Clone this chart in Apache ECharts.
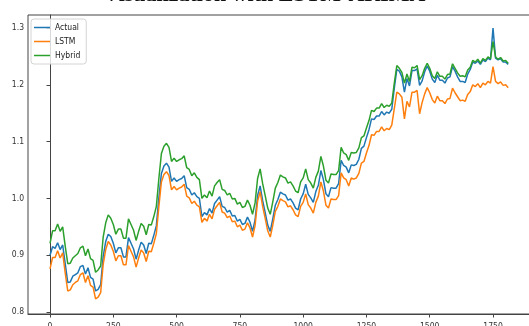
<!DOCTYPE html>
<html>
<head>
<meta charset="utf-8">
<script src="https://cdn.jsdelivr.net/npm/echarts@6/dist/echarts.min.js"></script>
<style>
  html, body { margin: 0; padding: 0; background: #fff; }
  #chart { width: 529px; height: 326px; }
</style>
</head>
<body>
<div id="chart"></div>
<script>
// Sample spacing along the x axis (time index)
const step = 10;

// Actual series
const actual = [
  0.900,0.915,0.912,0.922,0.910,0.918,0.885,0.852,0.853,0.863,
  0.866,0.869,0.880,0.882,0.867,0.878,0.861,0.858,0.837,0.840,
  0.848,0.898,0.924,0.937,0.933,0.921,0.904,0.913,0.913,0.897,
  0.897,0.931,0.921,0.911,0.893,0.909,0.923,0.918,0.903,0.921,
  0.920,0.935,0.952,1.001,1.044,1.057,1.062,1.055,1.030,1.036,
  1.030,1.033,1.035,1.040,1.019,1.016,1.006,1.010,1.003,1.000,
  0.968,0.975,0.971,0.982,0.974,0.991,0.997,1.003,0.986,0.984,
  0.976,0.979,0.969,0.970,0.960,0.963,0.954,0.956,0.967,0.958,
  0.942,0.962,1.005,1.022,0.996,0.975,0.953,0.942,0.964,0.988,
  0.998,1.011,1.008,1.006,0.997,0.999,0.992,0.983,0.980,0.999,
  1.008,1.025,1.007,1.001,0.993,1.012,1.023,1.049,1.033,1.008,
  1.003,1.019,1.018,1.018,1.026,1.067,1.058,1.055,1.045,1.059,
  1.058,1.060,1.069,1.088,1.092,1.107,1.121,1.140,1.139,1.145,
  1.145,1.153,1.147,1.152,1.150,1.157,1.194,1.227,1.224,1.214,
  1.187,1.211,1.198,1.225,1.225,1.228,1.199,1.207,1.223,1.233,
  1.224,1.210,1.204,1.217,1.208,1.208,1.203,1.212,1.214,1.232,
  1.224,1.214,1.206,1.206,1.204,1.219,1.227,1.240,1.238,1.242,
  1.236,1.244,1.241,1.247,1.244,1.300,1.247,1.244,1.246,1.240,
  1.240,1.236
];

// LSTM prediction
const lstm = [
  0.876,0.896,0.896,0.908,0.895,0.904,0.869,0.837,0.839,0.848,
  0.852,0.855,0.866,0.869,0.852,0.864,0.847,0.844,0.823,0.826,
  0.834,0.884,0.910,0.924,0.918,0.907,0.890,0.899,0.899,0.883,
  0.883,0.917,0.907,0.897,0.879,0.895,0.909,0.904,0.889,0.907,
  0.906,0.921,0.938,0.986,1.029,1.042,1.047,1.040,1.015,1.021,
  1.015,1.018,1.020,1.025,1.004,1.001,0.991,0.995,0.988,0.985,
  0.958,0.965,0.960,0.972,0.964,0.981,0.987,0.993,0.976,0.974,
  0.966,0.969,0.959,0.960,0.950,0.953,0.944,0.946,0.957,0.948,
  0.932,0.952,0.995,1.012,0.986,0.965,0.943,0.932,0.953,0.977,
  0.986,0.999,0.996,0.994,0.985,0.987,0.980,0.971,0.968,0.986,
  0.993,1.008,0.989,0.983,0.974,0.993,1.004,1.029,1.013,0.988,
  0.983,0.999,0.998,0.998,1.005,1.045,1.036,1.033,1.022,1.036,
  1.034,1.036,1.044,1.062,1.065,1.080,1.093,1.112,1.111,1.118,
  1.118,1.126,1.119,1.123,1.121,1.129,1.158,1.187,1.184,1.178,
  1.140,1.171,1.161,1.187,1.187,1.190,1.149,1.169,1.184,1.195,
  1.186,1.174,1.168,1.180,1.172,1.172,1.167,1.175,1.176,1.194,
  1.186,1.179,1.172,1.173,1.171,1.183,1.188,1.200,1.197,1.202,
  1.195,1.203,1.200,1.206,1.203,1.232,1.206,1.202,1.205,1.199,
  1.200,1.195
];

// Hybrid prediction
const hybrid = [
  0.921,0.943,0.943,0.955,0.942,0.950,0.916,0.885,0.886,0.895,
  0.899,0.903,0.913,0.916,0.899,0.911,0.894,0.891,0.870,0.874,
  0.881,0.932,0.957,0.971,0.965,0.954,0.937,0.946,0.946,0.930,
  0.930,0.964,0.954,0.944,0.926,0.942,0.956,0.951,0.936,0.954,
  0.953,0.968,0.986,1.035,1.079,1.092,1.097,1.090,1.065,1.071,
  1.065,1.068,1.070,1.075,1.054,1.051,1.040,1.045,1.037,1.033,
  1.000,1.006,1.001,1.013,1.004,1.022,1.028,1.033,1.016,1.014,
  1.006,1.009,0.999,1.000,0.990,0.993,0.984,0.986,0.997,0.988,
  0.972,0.992,1.035,1.052,1.026,1.005,0.983,0.972,0.994,1.018,
  1.028,1.041,1.038,1.036,1.027,1.029,1.022,1.013,1.010,1.029,
  1.036,1.052,1.033,1.027,1.018,1.037,1.048,1.074,1.057,1.032,
  1.027,1.043,1.042,1.042,1.049,1.090,1.080,1.077,1.067,1.081,
  1.080,1.081,1.089,1.107,1.110,1.124,1.137,1.155,1.153,1.159,
  1.159,1.167,1.160,1.164,1.162,1.168,1.203,1.234,1.229,1.222,
  1.203,1.219,1.206,1.231,1.230,1.234,1.209,1.216,1.229,1.238,
  1.229,1.216,1.211,1.223,1.215,1.215,1.210,1.218,1.219,1.237,
  1.229,1.221,1.215,1.216,1.214,1.226,1.231,1.243,1.240,1.245,
  1.238,1.246,1.243,1.249,1.246,1.276,1.249,1.245,1.248,1.242,
  1.243,1.238
];

// Tick labels
const xTicks = [0, 250, 500, 750, 1000, 1250, 1500, 1750];
const yTicks = [0.8, 0.9, 1.0, 1.1, 1.2, 1.3];

const toPairs = arr => arr.map((v, i) => [i * step, v]);

const chart = echarts.init(document.getElementById('chart'), null, { renderer: 'canvas' });

const tickFont = { fontFamily: '"DejaVu Sans Condensed", "DejaVu Sans", sans-serif', fontSize: 8.5, color: '#333' };

chart.setOption({
  animation: false,
  backgroundColor: '#fff',
  graphic: [{
    type: 'text',
    left: 'center',
    top: -16,
    style: {
      text: 'Visualization with LSTM-ARIMA',
      font: 'bold 22px "Liberation Serif", serif',
      fill: '#111'
    }
  }],
  grid: {
    left: 28, top: 15, right: -3, bottom: 12,
    outerBoundsMode: 'none',
    show: true, borderColor: '#444', borderWidth: 1, backgroundColor: 'transparent'
  },
  legend: {
    orient: 'vertical',
    left: 31, top: 19,
    icon: 'rect',
    itemWidth: 16, itemHeight: 1.5,
    itemGap: 5,
    padding: [4, 6, 4, 3],
    borderColor: '#d4d4d4', borderWidth: 1, borderRadius: 3,
    backgroundColor: 'rgba(255,255,255,0.8)',
    textStyle: { fontFamily: '"DejaVu Sans Condensed", "DejaVu Sans", sans-serif', fontSize: 8.5, color: '#222' },
    data: ['Actual', 'LSTM', 'Hybrid']
  },
  xAxis: {
    type: 'value',
    min: -87, max: 1904,
    axisLine: { show: true, lineStyle: { color: '#444', width: 1 } },
    axisTick: { show: true, length: 3.5, customValues: xTicks, lineStyle: { color: '#444' } },
    axisLabel: { customValues: xTicks, margin: 8, formatter: v => String(v), ...tickFont },
    splitLine: { show: false }
  },
  yAxis: {
    type: 'value',
    min: 0.79648, max: 1.3229,
    axisLine: { show: true, lineStyle: { color: '#444', width: 1 } },
    axisTick: { show: true, length: 3.5, customValues: yTicks, lineStyle: { color: '#444' } },
    axisLabel: { customValues: yTicks, margin: 4, formatter: v => v.toFixed(1), ...tickFont },
    splitLine: { show: false }
  },
  series: [
    { name: 'Actual', type: 'line', data: toPairs(actual), showSymbol: false, symbol: 'none',
      color: '#1f77b4', lineStyle: { width: 1.5, color: '#1f77b4' } },
    { name: 'LSTM', type: 'line', data: toPairs(lstm), showSymbol: false, symbol: 'none',
      color: '#ff7f0e', lineStyle: { width: 1.5, color: '#ff7f0e' } },
    { name: 'Hybrid', type: 'line', data: toPairs(hybrid), showSymbol: false, symbol: 'none',
      color: '#2ca02c', lineStyle: { width: 1.5, color: '#2ca02c' } }
  ]
});
</script>
</body>
</html>
